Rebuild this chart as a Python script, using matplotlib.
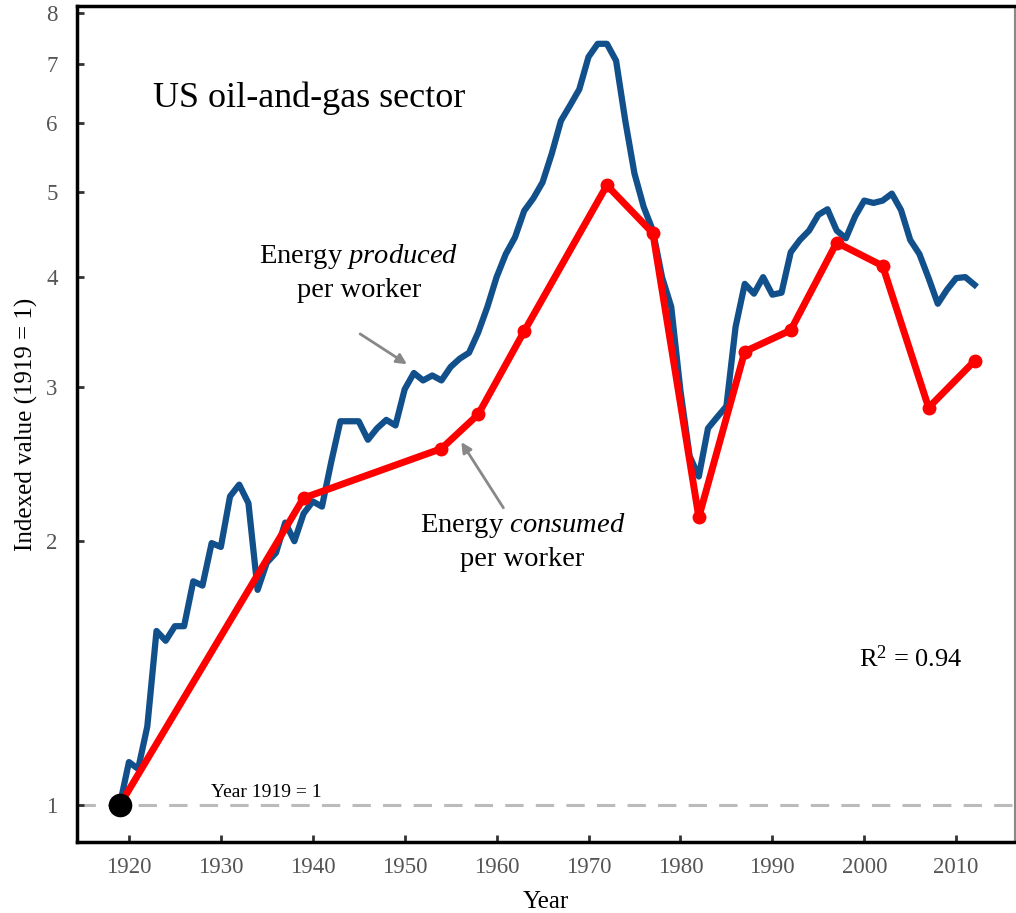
import matplotlib
matplotlib.use("Agg")
import matplotlib.pyplot as plt
from matplotlib.ticker import FixedLocator, FixedFormatter, NullLocator

plt.rcParams["font.family"] = ["Liberation Serif", "DejaVu Serif"]
plt.rcParams["mathtext.fontset"] = "custom"
plt.rcParams["mathtext.rm"] = "Liberation Serif"
plt.rcParams["mathtext.it"] = "Liberation Serif:italic"

# Energy produced per worker (yearly, 1919 = 1)
prod_years = list(range(1919, 2013))
prod_values = [
    1.00, 1.12, 1.10, 1.23, 1.58, 1.54, 1.60, 1.60, 1.80, 1.78,
    1.99, 1.97, 2.25, 2.32, 2.21, 1.76, 1.89, 1.94, 2.10, 2.00,
    2.15, 2.22, 2.19, 2.46, 2.74, 2.74, 2.74, 2.61, 2.69, 2.75,
    2.71, 2.98, 3.11, 3.05, 3.09, 3.05, 3.16, 3.23, 3.28, 3.46,
    3.70, 4.00, 4.25, 4.44, 4.76, 4.92, 5.13, 5.53, 6.03, 6.28,
    6.55, 7.13, 7.38, 7.38, 7.06, 6.03, 5.25, 4.81, 4.52, 4.00,
    3.70, 2.97, 2.50, 2.37, 2.69, 2.77, 2.85, 3.51, 3.93, 3.83,
    4.00, 3.82, 3.84, 4.27, 4.41, 4.52, 4.71, 4.78, 4.52, 4.43,
    4.69, 4.89, 4.86, 4.89, 4.98, 4.77, 4.41, 4.25, 3.99, 3.73,
    3.87, 3.99, 4.00, 3.92,
]

# Energy consumed per worker (census years)
cons_years = [1919, 1939, 1954, 1958, 1963, 1972, 1977, 1982, 1987, 1992, 1997, 2002, 2007, 2012]
cons_values = [1.00, 2.24, 2.55, 2.79, 3.47, 5.09, 4.49, 2.13, 3.29, 3.48, 4.38, 4.12, 2.84, 3.21]

y_ticks = [1, 2, 3, 4, 5, 6, 7, 8]
x_ticks = list(range(1920, 2020, 10))

fig = plt.figure(figsize=(10.16, 9.13), dpi=100)
ax = fig.add_axes([77 / 1016, 71 / 913, 938 / 1016, 836 / 913])

ax.set_yscale("log")
ax.axhline(1, color="#bbbbbb", lw=2.2, ls=(0, (6, 4)), zorder=1)

ax.plot(prod_years, prod_values, color="#12508c", lw=4.5, solid_joinstyle="round", zorder=2)
ax.plot(cons_years, cons_values, color="#ff0000", lw=5, marker="o", ms=9,
        solid_joinstyle="round", zorder=3)
ax.plot([1919], [1], "o", color="black", ms=16, zorder=4)

ax.set_xlim(1914.35, 2016.4)
ax.set_ylim(0.908, 8.15)

ax.yaxis.set_major_locator(FixedLocator(y_ticks))
ax.yaxis.set_major_formatter(FixedFormatter([str(t) for t in y_ticks]))
ax.yaxis.set_minor_locator(NullLocator())
ax.set_xticks(x_ticks)
ax.tick_params(direction="in", length=5, width=2, labelsize=16.5, labelcolor="#555555", color="#333333")
ax.tick_params(axis="x", pad=11)
ax.tick_params(axis="y", pad=14)

for side in ["left", "bottom", "top"]:
    ax.spines[side].set_linewidth(2.5)
    ax.spines[side].set_color("black")
ax.spines["right"].set_linewidth(1.5)
ax.spines["right"].set_color("#888888")

ax.set_xlabel("Year", fontsize=18, labelpad=9)
ax.set_ylabel("Indexed value (1919 = 1)", fontsize=18, labelpad=6)

ax.text(1922.6, 6.4, "US oil-and-gas sector", fontsize=26, va="center", ha="left")
ax.text(1945.0, 4.05, "Energy $\\mathit{produced}$\nper worker", fontsize=20.5,
        ha="center", va="center", multialignment="center", linespacing=1.35)
ax.text(1962.8, 2.0, "Energy $\\mathit{consumed}$\nper worker", fontsize=20.5,
        ha="center", va="center", multialignment="center", linespacing=1.35)
ax.text(2005.0, 1.47, "R$^2$ = 0.94", fontsize=19, ha="center", va="center")
ax.text(1934.9, 1.035, "Year 1919 = 1", fontsize=14, ha="center", va="center")

ax.annotate("", xy=(1950.5, 3.17), xytext=(1944.9, 3.46),
            arrowprops=dict(arrowstyle="-|>,head_length=0.6,head_width=0.3", color="#888888", lw=2))
ax.annotate("", xy=(1956.0, 2.61), xytext=(1960.9, 2.17),
            arrowprops=dict(arrowstyle="-|>,head_length=0.6,head_width=0.3", color="#888888", lw=2))

fig.savefig("out.png", dpi=100)
